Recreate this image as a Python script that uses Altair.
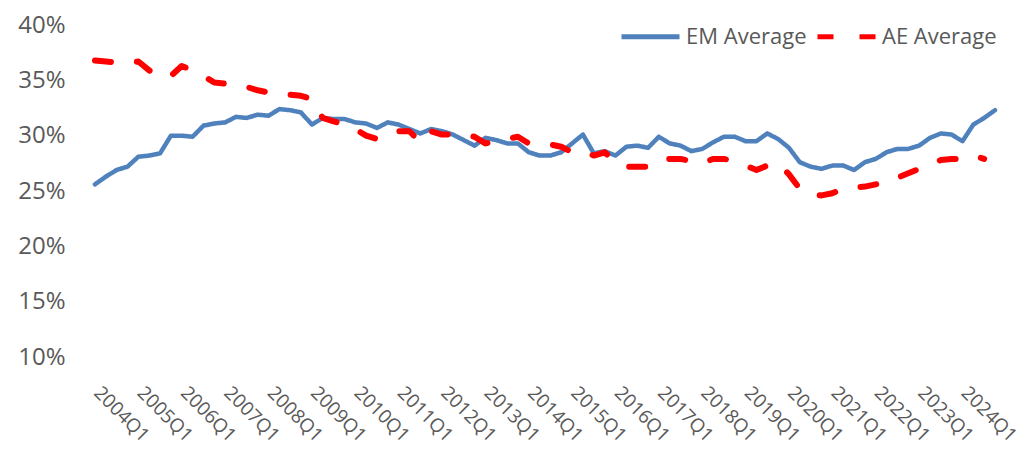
import altair as alt
import pandas as pd

# Quarterly categories, 2004Q1 .. 2024Q4
quarters = [f"{y}Q{q}" for y in range(2004, 2025) for q in range(1, 5)]
year_starts = [f"{y}Q1" for y in range(2004, 2025)]

# Series values in percent, one per quarter
em_average = [
    25.6, 26.3, 26.9, 27.2, 28.1, 28.2, 28.4, 30.0,
    30.0, 29.9, 30.9, 31.1, 31.2, 31.7, 31.6, 31.9,
    31.8, 32.4, 32.3, 32.1, 31.0, 31.6, 31.5, 31.5,
    31.2, 31.1, 30.7, 31.2, 31.0, 30.6, 30.2, 30.6,
    30.4, 30.1, 29.6, 29.1, 29.8, 29.6, 29.3, 29.3,
    28.5, 28.2, 28.2, 28.5, 29.3, 30.1, 28.4, 28.6,
    28.2, 29.0, 29.1, 28.9, 29.9, 29.3, 29.1, 28.6,
    28.8, 29.4, 29.9, 29.9, 29.5, 29.5, 30.2, 29.7,
    28.9, 27.6, 27.2, 27.0, 27.3, 27.3, 26.9, 27.6,
    27.9, 28.5, 28.8, 28.8, 29.1, 29.8, 30.2, 30.1,
    29.5, 31.0, 31.6, 32.3,
]
ae_average = [
    36.8, 36.7, 36.6, 36.6, 36.7, 35.9, 35.3, 35.4,
    36.3, 35.9, 35.4, 34.8, 34.7, 34.6, 34.4, 34.1,
    33.9, 33.8, 33.7, 33.6, 33.3, 31.6, 31.3, 31.0,
    30.6, 30.0, 29.7, 29.9, 30.4, 30.4, 29.4, 30.4,
    30.1, 30.1, 30.1, 29.9, 29.3, 29.5, 29.7, 29.9,
    29.3, 29.2, 29.2, 29.0, 28.5, 28.6, 28.2, 28.5,
    27.6, 27.2, 27.2, 27.2, 27.8, 27.9, 27.9, 27.7,
    27.5, 27.9, 27.9, 27.7, 27.3, 26.9, 27.3, 27.5,
    26.5, 25.2, 24.7, 24.6, 24.8, 25.2, 25.3, 25.4,
    25.6, 25.8, 26.2, 26.6, 27.0, 27.4, 27.8, 27.9,
    27.9, 28.2, 27.9,
]

series_names = ["EM Average", "AE Average"]
series_colors = ["#4F81BD", "#FF0000"]
series_dashes = [[1, 0], [16, 26]]
y_ticks = [10, 15, 20, 25, 30, 35, 40]

rows = []
for name, values in zip(series_names, [em_average, ae_average]):
    for q, v in zip(quarters, values):
        rows.append({"quarter": q, "series": name, "value": v})
df = pd.DataFrame(rows)

TEXT = "#595959"
FONT = "Open Sans"

x_enc = alt.X(
    "quarter:O",
    sort=quarters,
    scale=alt.Scale(type="point", padding=0),
    axis=alt.Axis(
        values=year_starts,
        labelAngle=45,
        labelAlign="left",
        labelBaseline="top",
        labelPadding=26,
        labelOffset=8,
        labelOverlap=False,
        labelBound=False,
        labelFlush=False,
        ticks=False,
        domain=False,
        grid=False,
        title=None,
        labelFontSize=19,
        labelColor=TEXT,
        labelFont=FONT,
    ),
)
y_enc = alt.Y(
    "value:Q",
    scale=alt.Scale(domain=[10, 40], nice=False, zero=False),
    axis=alt.Axis(
        values=y_ticks,
        labelExpr="datum.value + '%'",
        grid=False,
        ticks=False,
        domain=False,
        labelPadding=30,
        title=None,
        labelFontSize=24,
        labelColor=TEXT,
        labelFont=FONT,
    ),
)

legend = alt.Legend(
    orient="none",
    legendX=524,
    legendY=-20,
    direction="horizontal",
    title=None,
    symbolType="stroke",
    symbolSize=3364,
    symbolStrokeWidth=5,
    labelFontSize=22,
    labelColor=TEXT,
    labelFont=FONT,
    labelOffset=4,
    columnPadding=0,
)

color_enc = alt.Color(
    "series:N",
    scale=alt.Scale(domain=series_names, range=series_colors),
    legend=legend,
)
dash_enc = alt.StrokeDash(
    "series:N",
    scale=alt.Scale(domain=series_names, range=series_dashes),
    legend=legend,
)

base = alt.Chart(df).encode(x=x_enc, y=y_enc, color=color_enc, strokeDash=dash_enc)

em_line = base.transform_filter(alt.datum.series == "EM Average").mark_line(
    strokeWidth=4.5, strokeCap="round", strokeJoin="round"
)
ae_line = base.transform_filter(alt.datum.series == "AE Average").mark_line(
    strokeWidth=6, strokeCap="round", strokeJoin="round"
)

chart = (
    alt.layer(em_line, ae_line)
    .properties(
        width=900,
        height=332,
        autosize=alt.AutoSizeParams(type="none"),
        padding={"left": 95, "top": 25, "right": 33, "bottom": 92},
        background="white",
    )
    .configure_view(stroke=None)
)

chart.save("out.html", embed_options={"renderer": "svg", "actions": False})
